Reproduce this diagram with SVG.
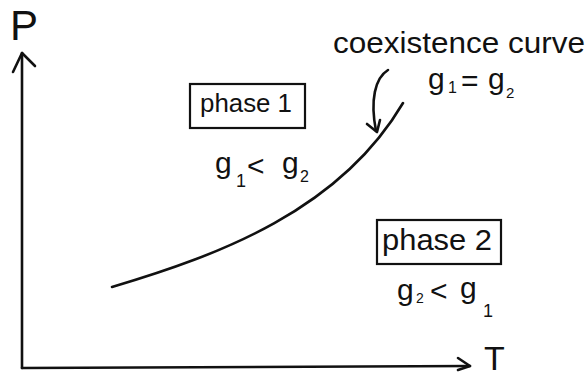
<svg xmlns="http://www.w3.org/2000/svg" width="588" height="378" viewBox="0 0 588 378">
<style>
.ln{fill:none;stroke:#111;stroke-width:2.6;stroke-linecap:round;stroke-linejoin:round}
.box{fill:none;stroke:#111;stroke-width:2.2}
.hand{font-family:"Liberation Sans",Arial,sans-serif;fill:#111}
</style>
<rect width="588" height="378" fill="#fff"/>
<g id="axes">
<path class="ln" d="M22,368 L22,53"/>
<path class="ln" d="M13,72 L22,53 L35,66"/>
<path class="ln" d="M22,368 L470,366"/>
<path class="ln" d="M458,358 L470,366 L458,370"/>
<text class="hand" x="10" y="40" font-size="42">P</text>
<text class="hand" x="484" y="370" font-size="34">T</text>
</g>
<g id="coexistence-curve">
<path class="ln" d="M112,287 C220,255 340,210 403,103"/>
<text class="hand" x="333" y="53" font-size="30" textLength="252" lengthAdjust="spacingAndGlyphs">coexistence curve</text>
<text class="hand" font-size="30"><tspan x="428" y="89">g</tspan><tspan x="448" y="93" font-size="16">1</tspan><tspan x="461" y="91">=</tspan><tspan x="488" y="89">g</tspan><tspan x="506" y="98" font-size="15">2</tspan></text>
</g>
<g id="phase1">
<rect class="box" x="190" y="84" width="115" height="44"/>
<text class="hand" x="200" y="112" font-size="26" textLength="92" lengthAdjust="spacingAndGlyphs">phase 1</text>
<text class="hand" font-size="30"><tspan x="215" y="173">g</tspan><tspan x="236" y="187" font-size="18">1</tspan><tspan x="247" y="176">&lt;</tspan><tspan x="282" y="173">g</tspan><tspan x="300" y="182" font-size="16">2</tspan></text>
</g>
<g id="phase2">
<rect class="box" x="377" y="220" width="124" height="44"/>
<text class="hand" x="382" y="250" font-size="29" textLength="110" lengthAdjust="spacingAndGlyphs">phase 2</text>
<text class="hand" font-size="30"><tspan x="397" y="300">g</tspan><tspan x="416" y="303" font-size="14">2</tspan><tspan x="430" y="301">&lt;</tspan><tspan x="460" y="298">g</tspan><tspan x="483" y="317" font-size="18">1</tspan></text>
</g>
<g id="connectors">
<path class="ln" d="M388,70 C375,78 370,100 376,131"/>
<path class="ln" d="M367,124 L377,132 L380,120"/>
</g>
</svg>
